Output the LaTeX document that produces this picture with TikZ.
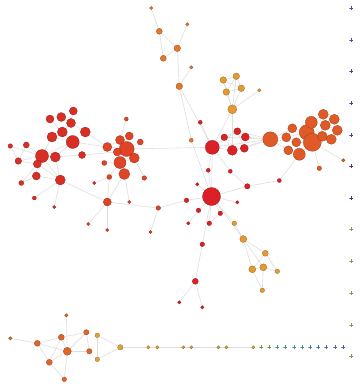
\documentclass[tikz,border=0pt]{standalone}
\pgfdeclarelayer{bg}
\pgfsetlayers{bg,main}
\definecolor{cL}{HTML}{D92E26}
\definecolor{cM}{HTML}{DF4426}
\definecolor{cT}{HTML}{E0782E}
\definecolor{cG}{HTML}{E39A33}
\definecolor{cC}{HTML}{DC2126}
\definecolor{cR}{HTML}{E05A27}
\definecolor{cB}{HTML}{E0652B}
\definecolor{cY}{HTML}{DFA23A}
\definecolor{cS}{HTML}{C9A232}
\definecolor{edgec}{HTML}{DEDEDE}
\definecolor{p1}{HTML}{4A4EAA}
\definecolor{p2}{HTML}{4A3FA0}
\definecolor{p3}{HTML}{55288E}
\definecolor{p4}{HTML}{8A9A44}
\tikzset{
  nd/.style 2 args={circle,inner sep=0pt,minimum size={2*#2pt},fill=#1,draw=#1!70!black,line width=0.3pt},
  pl/.style={rectangle,inner sep=0pt,minimum size=3.8pt,path picture={\draw[#1,line width=0.9pt] (path picture bounding box.north) -- (path picture bounding box.south) (path picture bounding box.west) -- (path picture bounding box.east);}},
  edge/.style={draw=edgec,line width=0.6pt}
}
\begin{document}
\begin{tikzpicture}[x=1pt,y=-1pt]
\useasboundingbox (0,0) rectangle (360,389);
% left cluster
\node[nd={cL}{2.3}] (L1) at (10.3,146) {};
\node[nd={cL}{3}] (L2) at (26.3,145) {};
\node[nd={cL}{3.3}] (L3) at (18.3,161) {};
\node[nd={cL}{2.5}] (L4) at (21.3,183) {};
\node[nd={cL}{2}] (L5) at (34.3,198) {};
\node[nd={cL}{1.7}] (L6) at (54.3,207) {};
\node[nd={cL}{6.5}] (L7) at (42,156) {};
\node[nd={cL}{4}] (L8) at (37.3,164) {};
\node[nd={cL}{4}] (L9) at (36.3,176) {};
\node[nd={cL}{5}] (L10) at (55.3,157) {};
\node[nd={cL}{5}] (L11) at (60.3,180) {};
\node[nd={cL}{4}] (L12) at (50,119) {};
\node[nd={cL}{4.5}] (L13) at (61.3,117) {};
\node[nd={cL}{4}] (L14) at (73.3,111) {};
\node[nd={cL}{4.5}] (L15) at (71,123) {};
\node[nd={cL}{5}] (L16) at (62.3,132) {};
\node[nd={cL}{5}] (L17) at (52,137) {};
\node[nd={cL}{6.5}] (L18) at (72.7,142) {};
\node[nd={cL}{5}] (L19) at (85.3,132) {};
\node[nd={cL}{3.5}] (L20) at (82,155) {};
\node[nd={cL}{1.7}] (L21) at (94.3,183) {};
% middle cluster
\node[nd={cM}{4.5}] (M1) at (107.3,147) {};
\node[nd={cM}{4.5}] (M2) at (120,140) {};
\node[nd={cM}{4}] (M3) at (129.3,136) {};
\node[nd={cM}{7.5}] (M4) at (126.7,149) {};
\node[nd={cM}{4}] (M5) at (117.3,152) {};
\node[nd={cM}{6}] (M6) at (120,162.5) {};
\node[nd={cM}{5}] (M7) at (134.3,158) {};
\node[nd={cM}{5.5}] (M8) at (124.3,174) {};
\node[nd={cM}{3}] (M9) at (140.3,142) {};
\node[nd={cM}{2}] (M10) at (126.3,119) {};
\node[nd={cM}{2.5}] (M11) at (104.3,163) {};
\node[nd={cM}{2.5}] (M12) at (109.3,177) {};
\node[nd={cM}{2.3}] (M13) at (144.3,178) {};
\node[nd={cM}{4}] (M14) at (107.3,202) {};
\node[nd={cM}{1.7}] (M15) at (129.3,202) {};
\node[nd={cM}{2.3}] (M16) at (158.3,208) {};
\node[nd={cM}{1.7}] (M17) at (88.3,224) {};
\node[nd={cM}{1.7}] (M18) at (107.3,230) {};
\node[nd={cM}{1.7}] (M19) at (150.5,232) {};
% top branch
\node[nd={cT}{1.7}] (T1) at (151.3,8) {};
\node[nd={cT}{3}] (T2) at (159.3,31.3) {};
\node[nd={cT}{1.7}] (T3) at (187.3,24.3) {};
\node[nd={cT}{3.3}] (T4) at (177.3,48.3) {};
\node[nd={cT}{3}] (T5) at (163.3,58.3) {};
\node[nd={cT}{1.7}] (T6) at (191.3,67.3) {};
\node[nd={cT}{3.3}] (T7) at (179.3,86.3) {};
\node[nd={cT}{2}] (T8) at (191.3,140.3) {};
% gold cluster
\node[nd={cG}{3.3}] (G1) at (223.3,80) {};
\node[nd={cG}{3.3}] (G2) at (236.3,76.3) {};
\node[nd={cG}{3.3}] (G3) at (226.3,92) {};
\node[nd={cG}{3.3}] (G4) at (241.3,88.3) {};
\node[nd={cG}{1.7}] (G5) at (259.3,90.3) {};
\node[nd={cG}{4.5}] (G6) at (232.3,109.3) {};
% central red
\node[nd={cC}{2}] (C0) at (200.3,122.3) {};
\node[nd={cC}{7}] (C1) at (212.3,147.3) {};
\node[nd={cC}{3.3}] (C2) at (224.3,137.3) {};
\node[nd={cC}{3.5}] (C3) at (237.3,131.3) {};
\node[nd={cC}{4}] (C4) at (245.3,137) {};
\node[nd={cC}{5}] (C5) at (232.3,150.3) {};
\node[nd={cC}{4}] (C6) at (244.3,148.3) {};
\node[nd={cC}{2}] (C7) at (208.3,170.3) {};
\node[nd={cC}{2}] (C8) at (230.3,171.3) {};
\node[nd={cC}{2.7}] (C9) at (247.3,186.3) {};
\node[nd={cC}{2}] (C10) at (279.3,180.5) {};
\node[nd={cC}{9}] (H) at (211.5,196.5) {};
\node[nd={cC}{1.7}] (C11) at (197.3,184.3) {};
\node[nd={cC}{2.3}] (C12) at (186.5,200.3) {};
\node[nd={cC}{1.7}] (C13) at (237.3,202.3) {};
\node[nd={cC}{2.3}] (C14) at (198.5,210.3) {};
\node[nd={cC}{2.3}] (C15) at (220.3,213.3) {};
\node[nd={cC}{1.7}] (C16) at (188.3,223.3) {};
\node[nd={cC}{2.3}] (C17) at (209.3,223.3) {};
\node[nd={cC}{2.3}] (C18) at (202.3,244.3) {};
\node[nd={cC}{3}] (C19) at (195.3,281.3) {};
\node[nd={cC}{1.7}] (C20) at (179.3,302.3) {};
\node[nd={cC}{1.7}] (C21) at (202.3,307.3) {};
% lower orange
\node[nd={cG}{2.3}] (O1) at (234.3,223.3) {};
\node[nd={cG}{3.5}] (O2) at (243.3,239) {};
\node[nd={cG}{3}] (O3) at (265.3,253.3) {};
\node[nd={cG}{3.5}] (O4) at (252.3,269.3) {};
\node[nd={cG}{3.5}] (O5) at (263.3,267.3) {};
\node[nd={cG}{2.3}] (O6) at (277.3,271.3) {};
\node[nd={cG}{2.3}] (O7) at (262.3,290.3) {};
% right orange
\node[nd={cR}{7.5}] (R0) at (270.3,139.3) {};
\node[nd={cR}{4.5}] (R1) at (286.3,137.3) {};
\node[nd={cR}{4.5}] (R2) at (292.3,128.3) {};
\node[nd={cR}{4.5}] (R3) at (296.3,142.3) {};
\node[nd={cR}{4.5}] (R4) at (288.3,150.3) {};
\node[nd={cR}{6}] (R5) at (299.3,154.3) {};
\node[nd={cR}{7.5}] (R6) at (306.7,132.3) {};
\node[nd={cR}{6}] (R7) at (311.3,122.3) {};
\node[nd={cR}{9}] (R8) at (312.3,142.3) {};
\node[nd={cR}{5}] (R9) at (323.3,114.3) {};
\node[nd={cR}{5}] (R10) at (325.3,125.3) {};
\node[nd={cR}{5}] (R11) at (334.3,119.3) {};
\node[nd={cR}{5}] (R12) at (337.3,130.3) {};
\node[nd={cR}{5}] (R13) at (331.3,139.3) {};
\node[nd={cR}{5}] (R14) at (322.3,136.3) {};
\node[nd={cR}{2.3}] (R15) at (319.3,168.3) {};
\node[nd={cR}{1.7}] (R16) at (343.3,160.3) {};
% bottom left
\node[nd={cB}{1.7}] (B1) at (10.3,338.3) {};
\node[nd={cB}{3}] (B2) at (37.3,343.3) {};
\node[nd={cB}{3}] (B3) at (61.3,337.3) {};
\node[nd={cB}{1.7}] (B4) at (66.3,315.3) {};
\node[nd={cB}{2.7}] (B5) at (86.3,332.3) {};
\node[nd={cB}{4}] (B6) at (67.3,351.3) {};
\node[nd={cB}{2.7}] (B7) at (89.3,351.3) {};
\node[nd={cB}{3}] (B8) at (49.3,362.3) {};
\node[nd={cB}{2.3}] (B9) at (64.3,379.3) {};
\node[nd={cY}{2.3}] (Y1) at (97.3,335.3) {};
\node[nd={cY}{2.3}] (Y2) at (97.3,359.3) {};
\node[nd={cY}{2.7}] (Y3) at (120.3,347.3) {};
\node[nd={cY}{1.7}] (Y4) at (148.3,347.3) {};
\node[nd={cY}{1.7}] (Y5) at (157.3,347.3) {};
\node[nd={cS}{1.6}] (S1) at (183.3,347.3) {};
\node[nd={cS}{1.6}] (S2) at (191.3,347.3) {};
\node[nd={cS}{1.6}] (S3) at (218.3,347.3) {};
\node[nd={cS}{1.6}] (S4) at (226.3,347.3) {};
\node[nd={cS}{1.6}] (S5) at (253.3,347.3) {};
% plus markers, bottom row
\definecolor{q1}{HTML}{7E9A4E}
\definecolor{q2}{HTML}{6C9A5E}
\definecolor{q3}{HTML}{5C9872}
\definecolor{q4}{HTML}{529484}
\definecolor{q5}{HTML}{4C8E92}
\definecolor{q6}{HTML}{4A879C}
\definecolor{q7}{HTML}{4A7EA2}
\definecolor{q8}{HTML}{4A76A6}
\definecolor{q9}{HTML}{4A6EA8}
\definecolor{q10}{HTML}{4A66A8}
\definecolor{q11}{HTML}{4A5EA8}
\node[pl=q1] (P1) at (261.3,347.3) {};
\node[pl=q2] (P2) at (269.3,347.3) {};
\node[pl=q3] (P3) at (277.3,347.3) {};
\node[pl=q4] (P4) at (285.3,347.3) {};
\node[pl=q5] (P5) at (294.3,347.3) {};
\node[pl=q6] (P6) at (302.3,347.3) {};
\node[pl=q7] (P7) at (310.3,347.3) {};
\node[pl=q8] (P8) at (318.3,347.3) {};
\node[pl=q9] (P9) at (326.3,347.3) {};
\node[pl=q10] (P10) at (335.3,347.3) {};
\node[pl=q11] (P11) at (343.3,347.3) {};
% right column
\node[pl=p1] (K1) at (351.3,8.3) {};
\node[pl=p1] (K2) at (351.3,40.3) {};
\node[pl=p2] (K3) at (351.3,71.3) {};
\node[pl=p2] (K4) at (351.3,103.3) {};
\node[pl=p2] (K5) at (351.3,135.3) {};
\node[pl=p3] (K6) at (351.3,166.3) {};
\node[pl=p3] (K7) at (351.3,198.3) {};
\node[pl=p4] (K8) at (351.3,229.3) {};
\node[pl=p4] (K9) at (351.3,261.3) {};
\node[pl=p4] (K10) at (351.3,293.3) {};
\node[pl=p4] (K11) at (351.3,325.3) {};
\node[pl=p4] (K12) at (351.3,356.3) {};
\begin{pgfonlayer}{bg}
\foreach \a/\b in {L1/L7,L2/L7,L1/L3,L2/L3,L3/L8,L7/L8,L7/L10,L7/L11,L8/L9,L8/L11,L9/L11,L10/L11,L4/L9,L4/L8,L5/L11,L6/L11,L3/L7,
  L12/L16,L13/L15,L14/L15,L15/L16,L15/L19,L16/L17,L16/L18,L17/L18,L17/L7,L18/L7,L18/L10,L18/M1,L19/M1,L10/L20,L20/M5,L11/M14,L21/M12,
  M1/M2,M1/M4,M2/M3,M2/M4,M3/M4,M4/M9,M4/M5,M4/M6,M4/M7,M5/M6,M6/M7,M6/M8,M10/M2,M11/M6,M12/M6,M13/M7,M8/M14,M8/M15,M12/M14,
  M14/M17,M14/M18,M14/M16,M16/M19,M16/C12,M4/C1,
  T1/T2,T2/T4,T2/T5,T5/T4,T3/T4,T4/T7,T6/T7,T7/C1,T7/T8,T8/H,
  G1/G2,G1/G3,G1/G4,G2/G3,G2/G4,G3/G4,G1/G6,G2/G6,G3/G6,G4/G6,G5/G6,G6/C1,G6/C5,
  C0/C1,C1/C2,C1/C5,C1/C3,C2/C3,C3/C4,C2/C5,C5/C6,C4/C6,C2/C4,C3/C6,
  C1/R0,C2/R0,C3/R0,C4/R0,C5/R0,C6/R0,
  C1/H,C1/C7,C7/H,C1/C8,C8/C9,C9/H,C9/C10,C10/R5,
  H/C11,H/C12,H/C13,H/C14,H/C15,H/C17,H/O1,H/O2,H/C18,C14/C16,C15/C17,C18/C19,C19/C20,C19/C21,O1/O2,
  O2/O3,O2/O4,O2/O5,O3/O4,O3/O6,O5/O6,O4/O5,O5/O7,O4/O7,
  R0/R1,R0/R2,R0/R4,R0/R3,R1/R2,R1/R3,R1/R6,R2/R6,R3/R8,R4/R5,R3/R5,R5/R8,R6/R8,R6/R7,R7/R9,R7/R10,R9/R10,R9/R11,R10/R11,R11/R12,R10/R12,R12/R13,R13/R14,R14/R8,R10/R8,R13/R8,R14/R7,R8/R15,R8/R16,
  B1/B2,B2/B3,B2/B6,B2/B8,B3/B5,B3/B6,B3/B8,B4/B6,B6/B5,B6/B7,B6/B8,B5/B7,B8/B9,B6/B9,
  Y1/Y2,Y1/Y3,Y2/Y3,Y3/Y4,Y4/Y5,Y5/S1,S1/S2,S2/S3,S3/S4,S4/S5}
  \draw[edge] (\a) -- (\b);
\end{pgfonlayer}
\end{tikzpicture}
\end{document}
